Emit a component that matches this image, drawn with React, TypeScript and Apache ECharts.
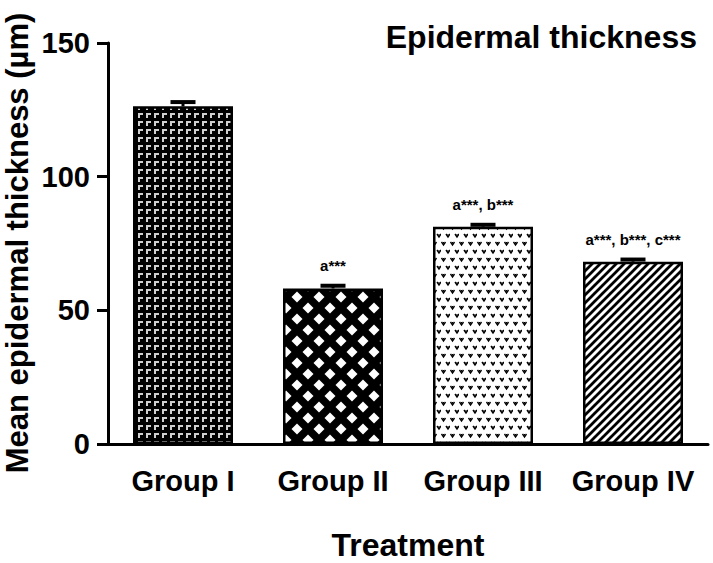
import React, { useEffect, useRef } from "react";
import * as echarts from "echarts";

const categories = ["Group I", "Group II", "Group III", "Group IV"];
const meanValues = [126.3, 58.2, 81.3, 68.2];
const semValues = [1.6, 1.0, 0.7, 0.8];
const annotations = ["", "a***", "a***, b***", "a***, b***, c***"];
const yTicks = { min: 0, max: 150, interval: 50 };
const yAxisTitle = "Mean epidermal thickness (µm)";

const FONT = "'Liberation Sans', Arial, Helvetica, sans-serif";

function makeCanvas(w: number, h: number, draw: (ctx: CanvasRenderingContext2D) => void) {
  const c = document.createElement("canvas");
  c.width = w;
  c.height = h;
  const ctx = c.getContext("2d") as CanvasRenderingContext2D;
  draw(ctx);
  return c;
}

function patterns() {
  const p1 = makeCanvas(8, 8, (ctx) => {
    ctx.fillStyle = "#000";
    ctx.fillRect(0, 0, 8, 8);
    ctx.fillStyle = "#d0d0d0";
    ctx.fillRect(2, 1, 5, 2);
    ctx.fillRect(2, 1, 2, 5);
  });
  const p2 = makeCanvas(22, 22, (ctx) => {
    ctx.fillStyle = "#000";
    ctx.fillRect(0, 0, 22, 22);
    ctx.fillStyle = "#fff";
    const d = 5.5;
    const centers = [
      [11, 11],
      [0, 0],
      [22, 0],
      [0, 22],
      [22, 22],
    ];
    centers.forEach(([cx, cy]) => {
      ctx.beginPath();
      ctx.moveTo(cx, cy - d);
      ctx.lineTo(cx + d, cy);
      ctx.lineTo(cx, cy + d);
      ctx.lineTo(cx - d, cy);
      ctx.closePath();
      ctx.fill();
    });
  });
  const p3 = makeCanvas(9, 16, (ctx) => {
    ctx.fillStyle = "#fff";
    ctx.fillRect(0, 0, 9, 16);
    ctx.strokeStyle = "#000";
    ctx.lineWidth = 1.4;
    const mark = (x: number, y: number) => {
      ctx.beginPath();
      ctx.moveTo(x, y);
      ctx.lineTo(x + 2, y + 3);
      ctx.lineTo(x + 4, y);
      ctx.stroke();
      ctx.fillStyle = "#000";
      ctx.fillRect(x + 1.5, y, 1, 1.5);
    };
    mark(0.5, 2);
    mark(5, 10);
  });
  const p4 = makeCanvas(8, 8, (ctx) => {
    ctx.fillStyle = "#fff";
    ctx.fillRect(0, 0, 8, 8);
    ctx.strokeStyle = "#000";
    ctx.lineWidth = 2.8;
    ctx.beginPath();
    ctx.moveTo(-2, 10);
    ctx.lineTo(10, -2);
    ctx.moveTo(-2, 2);
    ctx.lineTo(2, -2);
    ctx.moveTo(6, 10);
    ctx.lineTo(10, 6);
    ctx.stroke();
  });
  return [
    { c: p1, w: 8, h: 8 },
    { c: p2, w: 22, h: 22 },
    { c: p3, w: 9, h: 16 },
    { c: p4, w: 8, h: 8 },
  ].map((p) => ({
    image: p.c.toDataURL(),
    repeat: "repeat",
    imageWidth: p.w,
    imageHeight: p.h,
  }));
}

export default function App() {
  const ref = useRef<HTMLDivElement>(null);
  useEffect(() => {
    if (!ref.current) return;
    const chart = echarts.init(ref.current, undefined, { renderer: "svg" });
    const pats = patterns();
    const option: any = {
      animation: false,
      backgroundColor: "#fff",
      title: {
        text: "Epidermal thickness",
        right: 16,
        top: 21,
        padding: 0,
        textStyle: { fontFamily: FONT, fontWeight: "bold", fontSize: 32, color: "#000" },
      },
      graphic: [
        {
          type: "text",
          x: 17,
          y: 243,
          rotation: Math.PI / 2,
          style: {
            text: yAxisTitle,
            fontFamily: FONT,
            fontWeight: "bold",
            fontSize: 31,
            fill: "#000",
            align: "center",
            verticalAlign: "middle",
          },
        },
      ],
      grid: {
        left: 108,
        right: 5,
        top: 43,
        bottom: 119,
        containLabel: false,
        outerBoundsMode: "none",
      },
      xAxis: {
        type: "category",
        data: categories,
        name: "Treatment",
        nameLocation: "middle",
        nameGap: 85,
        nameTextStyle: { fontFamily: FONT, fontWeight: "bold", fontSize: 32, color: "#000" },
        axisLine: { lineStyle: { color: "#000", width: 3 } },
        axisTick: { alignWithLabel: true, length: 13, lineStyle: { color: "#000", width: 3 } },
        axisLabel: {
          interval: 0,
          hideOverlap: false,
          fontFamily: FONT,
          fontWeight: "bold",
          fontSize: 29,
          color: "#000",
          margin: 22,
        },
        splitLine: { show: false },
      },
      yAxis: {
        type: "value",
        min: yTicks.min,
        max: yTicks.max,
        interval: yTicks.interval,
        axisLine: { show: true, lineStyle: { color: "#000", width: 3 } },
        axisTick: { show: true, length: 11, lineStyle: { color: "#000", width: 3 } },
        axisLabel: { fontFamily: FONT, fontWeight: "bold", fontSize: 29, color: "#000", margin: 18 },
        splitLine: { show: false },
      },
      series: [
        {
          type: "bar",
          barWidth: 100,
          data: meanValues.map((v, i) => ({
            value: v,
            itemStyle: { color: pats[i], borderColor: "#000", borderWidth: 2.5 },
          })),
          label: {
            show: true,
            position: "top",
            distance: 15,
            formatter: (p: any) => annotations[p.dataIndex],
            fontFamily: FONT,
            fontWeight: "bold",
            fontSize: 15,
            color: "#000",
          },
          z: 2,
        },
        {
          type: "custom",
          data: meanValues.map((v, i) => [i, v, v + semValues[i]]),
          renderItem: (params: any, api: any) => {
            const base = api.coord([api.value(0), api.value(1)]);
            const top = api.coord([api.value(0), api.value(2)]);
            const half = 12.5;
            return {
              type: "group",
              children: [
                {
                  type: "line",
                  shape: { x1: base[0], y1: base[1], x2: top[0], y2: top[1] },
                  style: { stroke: "#000", lineWidth: 3 },
                },
                {
                  type: "line",
                  shape: { x1: top[0] - half, y1: top[1], x2: top[0] + half, y2: top[1] },
                  style: { stroke: "#000", lineWidth: 4 },
                },
              ],
            };
          },
          z: 3,
        },
      ],
    };
    chart.setOption(option);
    return () => chart.dispose();
  }, []);
  return (
    <div
      ref={ref}
      style={{ position: "fixed", left: 0, top: 0, width: 713, height: 563 }}
    />
  );
}
